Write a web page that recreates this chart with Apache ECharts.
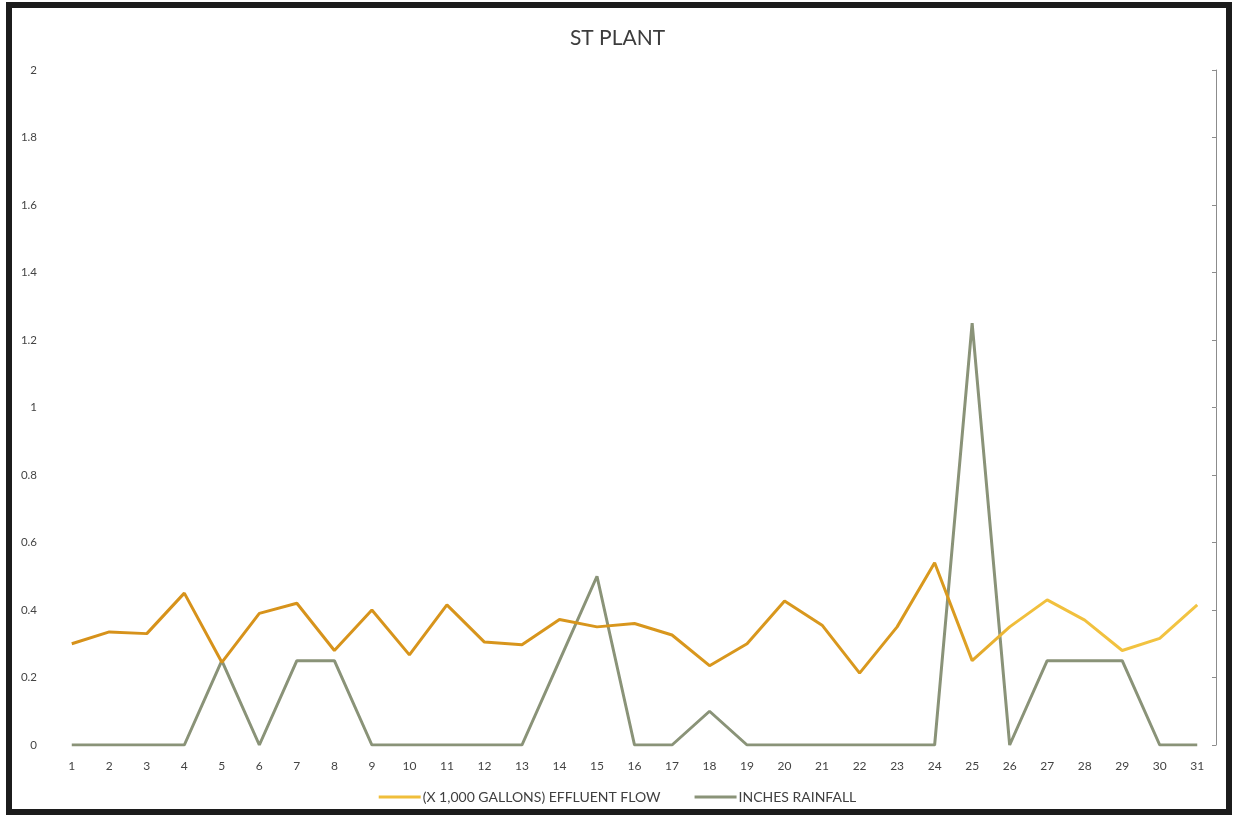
<!DOCTYPE html>
<html>
<head>
<meta charset="utf-8">
<style>
  html, body { margin: 0; padding: 0; background: #ffffff; }
  #chart { position: absolute; left: 0; top: 0; width: 1235px; height: 820px; }
  #frame {
    position: absolute; left: 6px; top: 2px; width: 1214px; height: 801px;
    border: 6px solid #1c1c1c; pointer-events: none;
  }
</style>
<script src="https://cdn.jsdelivr.net/npm/echarts@6/dist/echarts.min.js"></script>
</head>
<body>
<div id="chart"></div>
<div id="frame"></div>
<script>
// Days of the month
const days = Array.from({ length: 31 }, (_, i) => String(i + 1));

// Effluent flow, thousands of gallons
const effluentFlow = [
  0.30, 0.335, 0.33, 0.45, 0.245, 0.39, 0.42, 0.28, 0.40, 0.267,
  0.415, 0.305, 0.297, 0.372, 0.35, 0.36, 0.326, 0.235, 0.30, 0.427,
  0.355, 0.213, 0.35, 0.54, 0.25, 0.35, 0.43, 0.37, 0.28, 0.316,
  0.415
];

// Rainfall, inches
const rainfall = [
  0, 0, 0, 0, 0.25, 0, 0.25, 0.25, 0, 0,
  0, 0, 0, 0.25, 0.5, 0, 0, 0.1, 0, 0,
  0, 0, 0, 0, 1.25, 0, 0.25, 0.25, 0.25, 0,
  0
];

const seriesNames = ['(X 1,000 GALLONS) EFFLUENT FLOW', 'INCHES RAINFALL'];

const font = 'Lato, "Open Sans", sans-serif';
// The flow line brightens toward the end of the month
const flowColor = new echarts.graphic.LinearGradient(0, 0, 1, 0, [
  { offset: 0, color: '#D6911A' },
  { offset: 0.78, color: '#D9991E' },
  { offset: 0.84, color: '#F1BF3C' },
  { offset: 1, color: '#F2C442' }
]);
const flowLegendColor = '#F0BE3A';
const rainColor = '#8A9378';

const chart = echarts.init(document.getElementById('chart'), null, { renderer: 'canvas' });
chart.setOption({
  backgroundColor: '#ffffff',
  animation: false,
  title: {
    text: 'ST PLANT',
    left: 'center',
    top: 23,
    textStyle: { fontFamily: font, fontSize: 21, fontWeight: 'normal', color: '#3c3c3c' }
  },
  legend: {
    bottom: 11,
    left: 'center',
    icon: 'rect',
    itemWidth: 42,
    itemHeight: 3,
    itemGap: 34,
    textStyle: { fontFamily: font, fontSize: 14, color: '#404040', padding: [0, 0, 0, -3] },
    data: [
      { name: seriesNames[0], itemStyle: { color: flowLegendColor } },
      { name: seriesNames[1], itemStyle: { color: rainColor } }
    ]
  },
  grid: { left: 53, right: 19, top: 70, bottom: 75, containLabel: false },
  xAxis: {
    type: 'category',
    data: days,
    boundaryGap: true,
    axisLine: { show: false },
    axisTick: { show: false },
    axisLabel: { fontFamily: font, fontSize: 12, color: '#444', margin: 15 }
  },
  yAxis: [
    {
      type: 'value',
      min: 0, max: 2, interval: 0.2,
      axisLine: { show: false },
      axisTick: { show: false },
      splitLine: { show: false },
      axisLabel: {
        fontFamily: font, fontSize: 11.5, color: '#444', margin: 16,
        formatter: v => String(Math.round(v * 10) / 10)
      }
    },
    {
      type: 'value',
      position: 'right',
      min: 0, max: 2, interval: 0.2,
      axisLine: { show: true, lineStyle: { color: '#8c8c8c', width: 1 } },
      axisTick: { show: true, inside: true, length: 4, lineStyle: { color: '#8c8c8c' } },
      axisLabel: { show: false },
      splitLine: { show: false }
    }
  ],
  series: [
    {
      name: seriesNames[0],
      type: 'line',
      data: effluentFlow,
      symbol: 'none',
      lineStyle: { width: 3, color: flowColor },
      itemStyle: { color: flowLegendColor },
      z: 3
    },
    {
      name: seriesNames[1],
      type: 'line',
      data: rainfall,
      symbol: 'none',
      lineStyle: { width: 3, color: rainColor },
      itemStyle: { color: rainColor },
      z: 2
    }
  ]
});
</script>
</body>
</html>
